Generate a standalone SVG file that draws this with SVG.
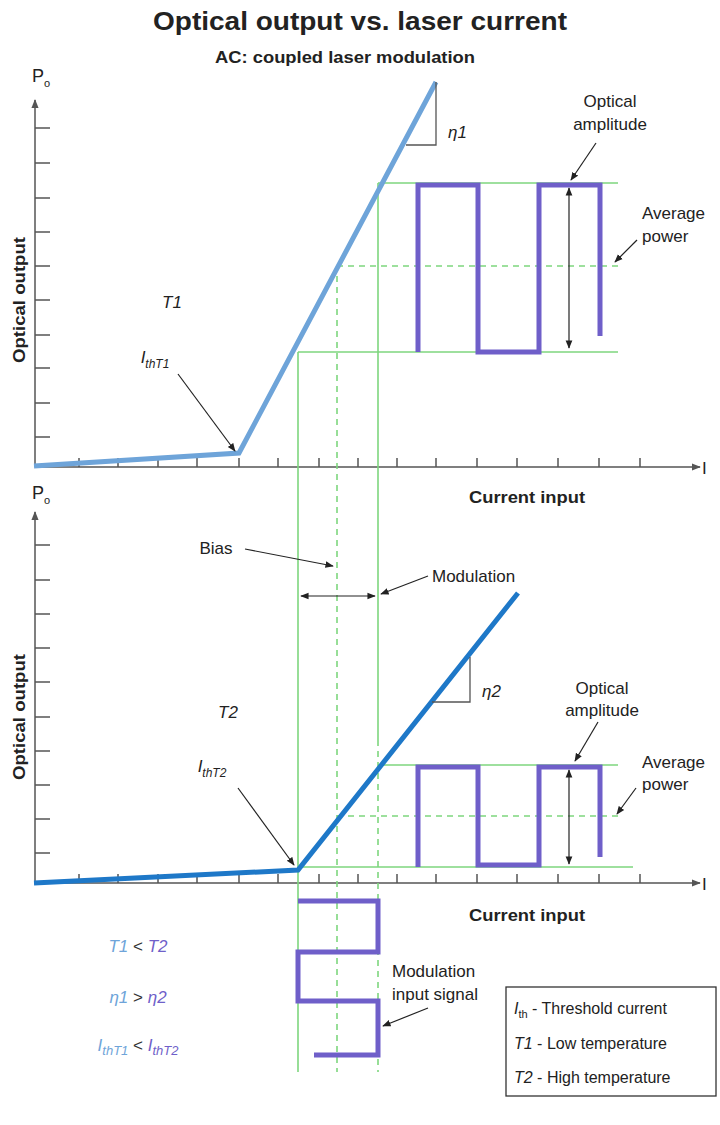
<svg xmlns="http://www.w3.org/2000/svg" width="720" height="1125" viewBox="0 0 720 1125">
<defs>
<style>
text{font-family:"Liberation Sans",Arial,sans-serif;fill:#222}
.b{font-weight:bold}
.i{font-style:italic}
.ax{stroke:#555;stroke-width:1.5;fill:none}
.tk{stroke:#555;stroke-width:1.5}
.g{stroke:#7ed67e;stroke-width:1.6;fill:none}
.gd{stroke:#7ed67e;stroke-width:1.6;fill:none;stroke-dasharray:6 5}
.pu{stroke:#6f5fc9;stroke-width:5;fill:none}
.ar{stroke:#222;stroke-width:1.2;fill:none}
</style>
<marker id="ah" viewBox="0 0 10 10" refX="9" refY="5" markerWidth="7" markerHeight="7" orient="auto-start-reverse"><path d="M0,1 L10,5 L0,9 z" fill="#222"/></marker>
<marker id="axh" viewBox="0 0 10 10" refX="9" refY="5" markerWidth="6" markerHeight="6" orient="auto"><path d="M0,1 L10,5 L0,9 z" fill="#555"/></marker>
</defs>
<text x="360" y="30" text-anchor="middle" class="b" font-size="25" textLength="414" lengthAdjust="spacingAndGlyphs">Optical output vs. laser current</text>
<text x="345" y="63" text-anchor="middle" class="b" font-size="16" textLength="260" lengthAdjust="spacingAndGlyphs">AC: coupled laser modulation</text>

<g id="axes-top">
<line class="ax" x1="35" y1="467" x2="35" y2="100" marker-end="url(#axh)"/>
<line class="ax" x1="35" y1="467" x2="700" y2="467" marker-end="url(#axh)"/>
<path class="tk" d="M35,128h15M35,163h15M35,198h15M35,232h15M35,266h15M35,300h15M35,335h15M35,368h15M35,403h15M35,437h15"/>
<path class="tk" d="M79,458v9M118,458v9M158,458v9M197,458v9M239,458v9M278,458v9M319,458v9M358,458v9M397,458v9M436,458v9M477,458v9M517,458v9M558,458v9M599,458v9M640,458v9"/>
<text x="32" y="82" font-size="18">P<tspan font-size="11" dy="5">o</tspan></text>
<text x="702" y="474" font-size="17">I</text>
<text x="527" y="503" text-anchor="middle" class="b" font-size="16" textLength="116" lengthAdjust="spacingAndGlyphs">Current input</text>
<text transform="translate(25,300) rotate(-90)" text-anchor="middle" class="b" font-size="16" textLength="126" lengthAdjust="spacingAndGlyphs">Optical output</text>
</g>
<g id="axes-bottom">
<line class="ax" x1="35" y1="883" x2="35" y2="512" marker-end="url(#axh)"/>
<line class="ax" x1="35" y1="883" x2="700" y2="883" marker-end="url(#axh)"/>
<path class="tk" d="M35,545h15M35,580h15M35,614h15M35,648h15M35,682h15M35,717h15M35,751h15M35,785h15M35,819h15M35,853h15"/>
<path class="tk" d="M79,874v9M118,874v9M158,874v9M197,874v9M239,874v9M278,874v9M319,874v9M358,874v9M397,874v9M436,874v9M477,874v9M517,874v9M558,874v9M599,874v9M640,874v9"/>
<text x="32" y="499" font-size="18">P<tspan font-size="11" dy="5">o</tspan></text>
<text x="702" y="890" font-size="17">I</text>
<text x="527" y="921" text-anchor="middle" class="b" font-size="16" textLength="116" lengthAdjust="spacingAndGlyphs">Current input</text>
<text transform="translate(25,717) rotate(-90)" text-anchor="middle" class="b" font-size="16" textLength="126" lengthAdjust="spacingAndGlyphs">Optical output</text>
</g>

<g id="guides">
<line class="g" x1="378" y1="183" x2="618" y2="183"/>
<line class="g" x1="298" y1="352" x2="618" y2="352"/>
<line class="gd" x1="337" y1="266" x2="618" y2="266"/>
<line class="g" x1="298" y1="352" x2="298" y2="1072"/>
<line class="gd" x1="337" y1="276" x2="337" y2="1072"/>
<line class="g" x1="378" y1="183" x2="378" y2="740"/>
<line class="gd" x1="378" y1="740" x2="378" y2="1072"/>
<line class="g" x1="378" y1="765" x2="618" y2="765"/>
<line class="g" x1="298" y1="867" x2="633" y2="867"/>
<line class="gd" x1="337" y1="816" x2="620" y2="816"/>
</g>

<g id="curve-T1">
<polyline points="34,466 239,453 436,82" fill="none" stroke="#6ea4d9" stroke-width="5"/>
<path d="M436,82V145H406" stroke="#555" stroke-width="1.3" fill="none"/>
<text x="448" y="138" class="i" font-size="17">η1</text>
</g>
<g id="curve-T2">
<polyline points="34,883 298,870 518,593" fill="none" stroke="#1e78c8" stroke-width="5"/>
<path d="M470,657V702H432" stroke="#555" stroke-width="1.3" fill="none"/>
<text x="482" y="697" class="i" font-size="17">η2</text>
</g>

<g id="wave-top"><polyline class="pu" points="418,352 418,185 478,185 478,352 539,352 539,185 600,185 600,336"/></g>
<g id="wave-bottom"><polyline class="pu" points="418,867 418,767 478,767 478,865 539,865 539,767 600,767 600,857"/></g>
<g id="wave-input"><polyline class="pu" points="298,901 378,901 378,952 298,952 298,1001 378,1001 378,1055 314,1055"/></g>

<g id="labels-top" font-size="17">
<text x="172" y="308" text-anchor="middle" class="i" font-size="17">T1</text>
<text x="155" y="363" text-anchor="middle" class="i" font-size="17">I<tspan font-size="12" dy="5">thT1</tspan></text>
<text x="610" y="107" text-anchor="middle" font-size="17">Optical</text>
<text x="610" y="130" text-anchor="middle" font-size="17">amplitude</text>
<text x="642" y="219" font-size="17">Average</text>
<text x="642" y="242" font-size="17">power</text>
</g>
<g id="labels-bottom">
<text x="228" y="718" text-anchor="middle" class="i" font-size="17">T2</text>
<text x="212" y="772" text-anchor="middle" class="i" font-size="17">I<tspan font-size="12" dy="5">thT2</tspan></text>
<text x="216" y="554" text-anchor="middle" font-size="17">Bias</text>
<text x="432" y="582" font-size="17">Modulation</text>
<text x="602" y="694" text-anchor="middle" font-size="17">Optical</text>
<text x="602" y="716" text-anchor="middle" font-size="17">amplitude</text>
<text x="642" y="768" font-size="17">Average</text>
<text x="642" y="790" font-size="17">power</text>
<text x="392" y="977" font-size="17">Modulation</text>
<text x="392" y="1000" font-size="17">input signal</text>
</g>

<g id="connectors">
<line class="ar" x1="178" y1="374" x2="235" y2="451" marker-end="url(#ah)"/>
<line class="ar" x1="596" y1="143" x2="571" y2="180" marker-end="url(#ah)"/>
<line class="ar" x1="637" y1="240" x2="615" y2="262" marker-end="url(#ah)"/>
<line class="ar" x1="569" y1="188" x2="569" y2="348" marker-start="url(#ah)" marker-end="url(#ah)"/>
<line class="ar" x1="245" y1="549" x2="333" y2="566" marker-end="url(#ah)"/>
<line class="ar" x1="428" y1="576" x2="381" y2="594" marker-end="url(#ah)"/>
<line class="ar" x1="301" y1="596" x2="375" y2="596" marker-start="url(#ah)" marker-end="url(#ah)"/>
<line class="ar" x1="238" y1="788" x2="294" y2="865" marker-end="url(#ah)"/>
<line class="ar" x1="598" y1="722" x2="575" y2="761" marker-end="url(#ah)"/>
<line class="ar" x1="636" y1="788" x2="617" y2="814" marker-end="url(#ah)"/>
<line class="ar" x1="569" y1="770" x2="569" y2="864" marker-start="url(#ah)" marker-end="url(#ah)"/>
<line class="ar" x1="428" y1="1008" x2="383" y2="1026" marker-end="url(#ah)"/>
</g>

<g id="relations">
<text x="138" y="952" text-anchor="middle" class="i" font-size="17"><tspan fill="#6ea4d9">T1</tspan><tspan fill="#333" font-style="normal"> &lt; </tspan><tspan fill="#6f5fc9">T2</tspan></text>
<text x="138" y="1003" text-anchor="middle" class="i" font-size="17"><tspan fill="#6ea4d9">η1</tspan><tspan fill="#333" font-style="normal"> &gt; </tspan><tspan fill="#6f5fc9">η2</tspan></text>
<text x="138" y="1051" text-anchor="middle" class="i" font-size="17"><tspan fill="#6ea4d9">I</tspan><tspan fill="#6ea4d9" font-size="13" dy="4">thT1</tspan><tspan fill="#333" font-style="normal" dy="-4"> &lt; </tspan><tspan fill="#6f5fc9">I</tspan><tspan fill="#6f5fc9" font-size="13" dy="4">thT2</tspan></text>
</g>

<g id="legend">
<rect x="506" y="987" width="210" height="109" fill="#fff" stroke="#333" stroke-width="1.3"/>
<text x="514" y="1014" font-size="16"><tspan class="i">I</tspan><tspan font-size="11" dy="4">th</tspan><tspan dy="-4"> - Threshold current</tspan></text>
<text x="514" y="1049" font-size="16"><tspan class="i">T1</tspan> - Low temperature</text>
<text x="514" y="1083" font-size="16"><tspan class="i">T2</tspan> - High temperature</text>
</g>
</svg>
